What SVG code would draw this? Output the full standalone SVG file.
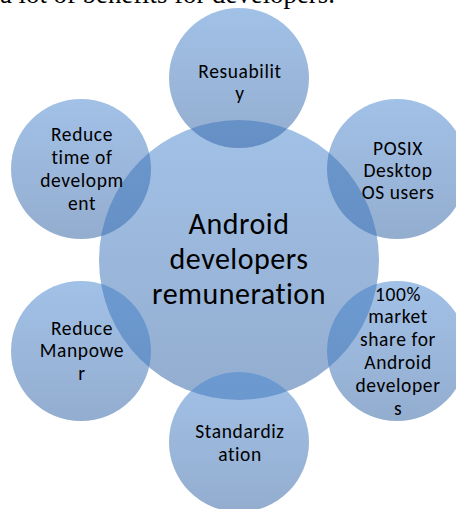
<svg xmlns="http://www.w3.org/2000/svg" width="456" height="509" viewBox="0 0 456 509">
<defs>
<linearGradient id="gFill" x1="0" y1="0" x2="0" y2="1">
<stop offset="0" stop-color="#A2C1E7"/>
<stop offset="1" stop-color="#93ADCF"/>
</linearGradient>
<linearGradient id="gLens" x1="0" y1="0" x2="0" y2="1">
<stop offset="0" stop-color="#6C9AD0"/>
<stop offset="1" stop-color="#6690C5"/>
</linearGradient>
<clipPath id="bigClip"><circle cx="239" cy="260" r="140"/></clipPath>
<style>
.c{fill:url(#gFill);}
.lens{fill:url(#gLens);}
.t{font-family:Carlito,Lato,"Liberation Sans",sans-serif;font-size:19.5px;letter-spacing:0.6px;fill:#000;text-anchor:middle;font-variant-ligatures:none;}
.big{font-size:30px;letter-spacing:0.5px;}
.hdr{font-family:"Liberation Serif","Times New Roman",serif;font-size:26.8px;fill:#000;}
</style>
</defs>
<rect width="456" height="509" fill="#fff"/>
<text class="hdr" x="0" y="3">a lot of benefits for developers.</text>

<g id="center">
<circle class="c" cx="239" cy="260" r="140"/>
<text class="t big"><tspan x="239" y="234">Android</tspan><tspan x="239" y="269">developers</tspan><tspan x="239" y="304">remuneration</tspan></text>
</g>

<g id="resuability">
<circle class="c" cx="239" cy="78" r="70"/>
<circle class="lens" cx="239" cy="78" r="70" clip-path="url(#bigClip)"/>
<text class="t"><tspan x="240" y="78">Resuabilit</tspan><tspan x="240" y="100">y</tspan></text>
</g>

<g id="posix">
<circle class="c" cx="397" cy="169" r="70"/>
<circle class="lens" cx="397" cy="169" r="70" clip-path="url(#bigClip)"/>
<text class="t"><tspan x="398" y="155">POSIX</tspan><tspan x="398" y="177">Desktop</tspan><tspan x="398" y="199">OS users</tspan></text>
</g>

<g id="market">
<circle class="c" cx="397" cy="351" r="70"/>
<circle class="lens" cx="397" cy="351" r="70" clip-path="url(#bigClip)"/>
<text class="t"><tspan x="398" y="301">100%</tspan><tspan x="398" y="323">market</tspan><tspan x="398" y="346">share for</tspan><tspan x="398" y="369">Android</tspan><tspan x="398" y="392">developer</tspan><tspan x="398" y="415">s</tspan></text>
</g>

<g id="standardization">
<circle class="c" cx="239" cy="442" r="70"/>
<circle class="lens" cx="239" cy="442" r="70" clip-path="url(#bigClip)"/>
<text class="t"><tspan x="240" y="438">Standardiz</tspan><tspan x="240" y="461">ation</tspan></text>
</g>

<g id="manpower">
<circle class="c" cx="81" cy="351" r="70"/>
<circle class="lens" cx="81" cy="351" r="70" clip-path="url(#bigClip)"/>
<text class="t"><tspan x="82" y="335">Reduce</tspan><tspan x="82" y="357">Manpowe</tspan><tspan x="82" y="380">r</tspan></text>
</g>

<g id="time">
<circle class="c" cx="81" cy="169" r="70"/>
<circle class="lens" cx="81" cy="169" r="70" clip-path="url(#bigClip)"/>
<text class="t"><tspan x="82" y="141">Reduce</tspan><tspan x="82" y="164">time of</tspan><tspan x="82" y="187">developm</tspan><tspan x="82" y="210">ent</tspan></text>
</g>

<g id="connectors"></g>
</svg>
